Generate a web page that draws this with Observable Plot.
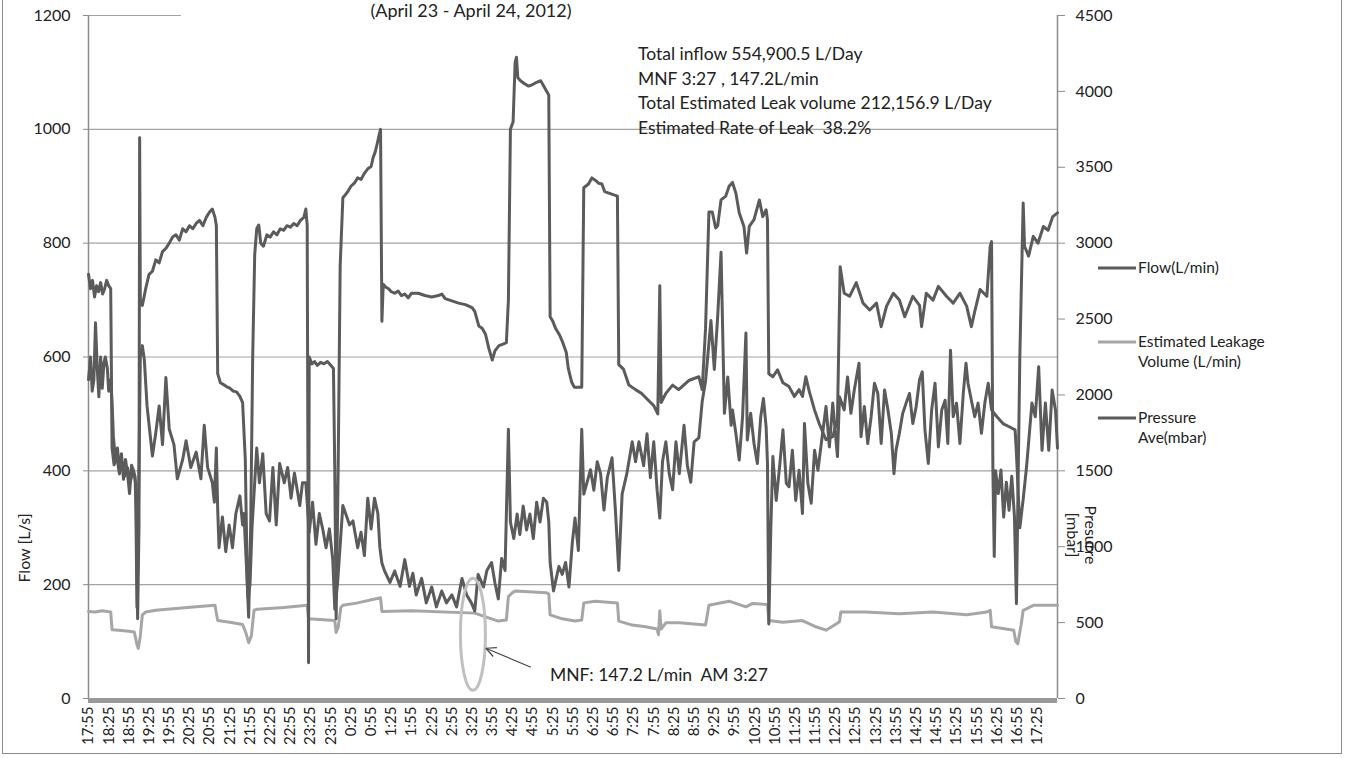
<!DOCTYPE html>
<html>
<head>
<meta charset="utf-8">
<script src="https://cdn.jsdelivr.net/npm/d3@7"></script>
<script src="https://cdn.jsdelivr.net/npm/@observablehq/plot@0.6"></script>
<style>
  html, body { margin: 0; padding: 0; background: #fff; }
  #wrap { position: relative; width: 1350px; height: 758px; overflow: hidden; background: #fff; }
  #chart { position: absolute; left: 0; top: 0; }
  #frame { position: absolute; left: 2px; top: -4px; width: 1340px; height: 758px; border: 1.5px solid #8c8c8c; box-sizing: border-box; pointer-events: none; }
</style>
</head>
<body>
<div id="wrap">
  <div id="chart"></div>
  <div id="frame"></div>
</div>
<script>
// ---- data: minutes after 17:55 (April 23) ----
const xTickLabels = ["17:55","18:25","18:55","19:25","19:55","20:25","20:55","21:25","21:55","22:25","22:55","23:25","23:55","0:25","0:55","1:25","1:55","2:25","2:55","3:25","3:55","4:25","4:55","5:25","5:55","6:25","6:55","7:25","7:55","8:25","8:55","9:25","9:55","10:25","10:55","11:25","11:55","12:25","12:55","13:25","13:55","14:25","14:55","15:25","15:55","16:25","16:55","17:25"];
const flowTicks = [0, 200, 400, 600, 800, 1000, 1200];
const pressureTicks = [0, 500, 1000, 1500, 2000, 2500, 3000, 3500, 4000, 4500];

// Flow (L/min): [minute, value]
const flowSeries = [[0,560],[3,600],[5.5,540],[8,560],[10.4,660],[13,580],[15.4,530],[18,600],[20.4,545],[23,590],[25,600],[28,580],[30,540],[33,560],[35,520],[37,460],[40,420],[43,440],[46,400],[49,430],[52,385],[55,420],[58,395],[61,360],[64,410],[67,400],[70,380],[72,160],[74,300],[77,600],[80,620],[83,595],[87,514],[95,426],[100,467],[105,514],[110,446],[115,564],[120,473],[127,446],[132,386],[140,420],[145,453],[152,406],[160,433],[167,386],[172,480],[177,406],[184,379],[187,345],[190,440],[192,332],[194,265],[199,319],[204,258],[209,305],[214,265],[219,325],[225,356],[229,305],[231,325],[234,250],[237,177],[240,200],[243,300],[250,440],[254,379],[259,430],[264,325],[269,312],[274,406],[279,305],[284,413],[291,379],[296,406],[301,352],[306,396],[314,339],[318,379],[323,379],[328,292],[333,345],[338,271],[343,325],[348,298],[353,265],[358,298],[363,244],[366,157],[370,200],[378,339],[388,305],[393,312],[400,265],[405,292],[410,251],[415,352],[420,298],[425,352],[430,325],[433,265],[436,238],[440,224],[448,204],[455,224],[463,197],[470,244],[477,197],[482,220],[487,182],[495,211],[502,168],[510,196],[517,161],[525,189],[532,168],[540,182],[547,161],[555,211],[562,182],[569,168],[574,154],[579,218],[587,196],[592,225],[599,239],[604,203],[609,175],[614,246],[619,225],[624,473],[627,310],[632,281],[637,324],[641,288],[646,338],[651,296],[656,324],[661,281],[666,345],[671,310],[676,352],[681,345],[684,310],[686,239],[691,189],[699,232],[704,218],[709,239],[714,196],[719,274],[723,317],[728,260],[733,473],[736,359],[741,380],[746,402],[751,366],[756,416],[761,395],[766,331],[771,388],[778,423],[783,331],[788,225],[793,359],[800,395],[808,451],[813,416],[818,451],[825,409],[830,465],[835,388],[840,451],[845,366],[849,317],[853,416],[858,451],[863,395],[868,367],[873,451],[878,395],[885,480],[890,409],[895,380],[900,451],[907,458],[912,522],[917,558],[925,664],[930,578],[935,671],[940,784],[945,501],[950,565],[955,480],[957,507],[962,466],[967,419],[972,495],[977,642],[979,454],[984,501],[989,448],[994,413],[999,495],[1003,527],[1007,477],[1009,413],[1011,131],[1014,300],[1017,425],[1022,348],[1027,407],[1032,472],[1037,378],[1041,372],[1046,436],[1051,348],[1056,401],[1061,325],[1064,483],[1069,378],[1074,343],[1079,436],[1084,401],[1089,448],[1096,513],[1101,442],[1106,519],[1113,425],[1116,530],[1123,507],[1128,565],[1133,501],[1138,542],[1145,589],[1148,460],[1153,513],[1158,448],[1163,495],[1168,554],[1173,536],[1178,448],[1183,542],[1188,507],[1193,466],[1197,395],[1200,436],[1205,466],[1210,501],[1215,519],[1220,536],[1225,483],[1230,513],[1235,560],[1239,574],[1243,472],[1248,413],[1253,507],[1258,554],[1263,442],[1268,507],[1273,524],[1277,448],[1281,612],[1285,495],[1290,519],[1295,448],[1300,536],[1304,589],[1307,554],[1312,524],[1317,495],[1322,519],[1327,466],[1332,519],[1337,554],[1342,507],[1350,495],[1359,483],[1369,477],[1377,472],[1379,430],[1384,300],[1389,350],[1394,407],[1402,519],[1407,495],[1412,583],[1417,436],[1422,519],[1427,436],[1432,542],[1437,507],[1440,440]];

// Estimated leakage volume (L/min): [minute, value]
const leakSeries = [[0,153],[10,152],[20,154],[33,152],[35,121],[45,120],[60,118],[68,117],[72,95],[74,88],[77,110],[80,147],[85,152],[100,155],[130,158],[160,161],[188,164],[190,150],[192,137],[210,134],[229,130],[234,115],[238,98],[242,110],[246,155],[251,157],[290,160],[325,164],[327,140],[366,137],[368,116],[371,125],[375,160],[378,164],[400,168],[434,177],[436,153],[480,154],[574,150],[599,140],[609,136],[621,138],[624,179],[630,186],[634,189],[680,186],[684,184],[686,147],[704,140],[723,136],[733,138],[736,168],[753,171],[786,168],[788,136],[808,129],[828,126],[845,122],[847,112],[849,154],[851,122],[858,133],[878,133],[917,129],[922,164],[952,171],[977,161],[987,167],[1009,165],[1011,137],[1032,134],[1061,137],[1081,126],[1096,120],[1111,131],[1116,135],[1118,152],[1155,152],[1205,149],[1255,152],[1305,147],[1335,152],[1340,155],[1342,126],[1375,120],[1378,100],[1381,96],[1386,130],[1389,155],[1405,164],[1440,164]];

// Pressure average (mbar): [minute, value]
const pressureSeries = [[0,2795],[3,2700],[6,2755],[9,2645],[12,2720],[15,2680],[18,2740],[21,2665],[24,2700],[27,2755],[30,2720],[33,2700],[35,1650],[38,1540],[42,1595],[46,1480],[50,1555],[54,1465],[58,1520],[62,1425],[66,1500],[69,1465],[71,1240],[73,525],[75,1125],[76,3695],[77,2625],[80,2590],[85,2700],[90,2795],[95,2815],[100,2890],[105,2870],[110,2945],[115,2965],[120,3000],[125,3040],[130,3055],[135,3020],[140,3095],[145,3075],[150,3115],[155,3095],[160,3130],[165,3150],[170,3115],[175,3170],[180,3205],[184,3225],[188,3170],[190,3115],[192,2140],[196,2080],[200,2070],[205,2055],[210,2045],[215,2025],[220,2020],[225,1990],[229,1950],[233,1575],[236,750],[238,535],[241,1125],[244,2250],[247,2925],[250,3095],[253,3120],[256,3000],[260,2980],[265,3055],[270,3040],[275,3075],[280,3055],[285,3095],[290,3085],[295,3115],[300,3105],[305,3130],[310,3115],[315,3150],[320,3170],[323,3225],[325,3115],[327,235],[328,2250],[332,2205],[336,2220],[340,2195],[345,2215],[350,2205],[355,2220],[360,2195],[364,2175],[366,1500],[368,525],[371,1500],[374,2850],[378,3300],[382,3320],[386,3345],[390,3375],[395,3395],[400,3430],[405,3420],[410,3460],[415,3490],[420,3505],[423,3565],[426,3600],[429,3655],[432,3715],[434,3750],[436,2485],[438,2730],[442,2710],[446,2700],[450,2680],[455,2670],[460,2685],[465,2655],[470,2665],[475,2640],[480,2670],[490,2670],[500,2655],[510,2645],[520,2655],[525,2665],[530,2635],[540,2620],[550,2605],[560,2595],[570,2575],[574,2550],[580,2455],[585,2440],[590,2400],[595,2305],[600,2230],[604,2290],[610,2325],[616,2335],[621,2345],[624,2625],[627,3750],[631,3800],[634,4190],[636,4225],[638,4090],[642,4070],[648,4050],[654,4035],[660,4045],[666,4060],[672,4070],[681,4000],[684,3975],[686,2515],[690,2485],[694,2440],[700,2395],[704,2355],[710,2280],[713,2175],[718,2085],[722,2050],[733,2050],[736,3365],[743,3390],[748,3430],[753,3415],[758,3395],[763,3390],[767,3340],[786,3310],[788,2200],[795,2170],[803,2065],[813,2035],[822,2010],[833,1960],[840,1930],[846,1875],[849,2720],[851,1950],[858,2010],[868,2065],[877,2035],[892,2095],[907,2120],[912,2035],[917,2440],[922,3205],[927,3205],[932,3100],[935,3115],[940,3285],[947,3310],[952,3375],[957,3400],[962,3330],[967,3200],[974,3110],[978,2935],[982,3110],[989,3155],[997,3285],[1002,3175],[1007,3220],[1009,3155],[1011,2140],[1017,2120],[1024,2165],[1032,2080],[1041,2055],[1049,1990],[1056,2035],[1061,1990],[1066,2120],[1071,2025],[1079,1900],[1086,1810],[1096,1705],[1106,1725],[1113,1840],[1117,2845],[1123,2670],[1131,2650],[1141,2740],[1151,2605],[1161,2560],[1171,2605],[1178,2450],[1186,2585],[1196,2670],[1205,2625],[1213,2515],[1225,2650],[1235,2590],[1238,2450],[1245,2670],[1255,2625],[1263,2715],[1275,2650],[1285,2605],[1295,2670],[1305,2585],[1312,2450],[1317,2550],[1325,2695],[1335,2650],[1340,2980],[1342,3010],[1344,1505],[1346,935],[1348,1500],[1352,1350],[1356,1505],[1360,1195],[1364,1425],[1368,1240],[1372,1465],[1376,1200],[1379,625],[1384,2250],[1389,3265],[1391,2980],[1397,2915],[1404,3045],[1411,3000],[1419,3110],[1426,3085],[1433,3175],[1440,3200]];

// Annotation
const mnf = { minute: 572, value: 112, label: "MNF: 147.2 L/min  AM 3:27" };
const statsLines = ["Total inflow 554,900.5 L/Day", "MNF 3:27 , 147.2L/min", "Total Estimated Leak volume 212,156.9 L/Day", "Estimated Rate of Leak  38.2%"];
const legendItems = [
  { lines: ["Flow(L/min)"], color: "#5b5b5b" },
  { lines: ["Estimated Leakage", "Volume (L/min)"], color: "#a6a6a6" },
  { lines: ["Pressure", "Ave(mbar)"], color: "#5b5b5b" }
];

// ---- build ----
const ratio = pressureTicks[pressureTicks.length - 1] / flowTicks[flowTicks.length - 1];
const rows = s => s.map(([t, v]) => ({ t, v }));
const flow = rows(flowSeries), leak = rows(leakSeries), pressure = rows(pressureSeries);
const xTickPos = xTickLabels.map((_, i) => i * 30);
const labelAt = new Map(xTickPos.map((p, i) => [p, xTickLabels[i]]));
const gridCol = "#a3a3a3", axisCol = "#8c8c8c";

const chart = Plot.plot({
  width: 1350, height: 758,
  marginLeft: 88, marginRight: 293, marginTop: 15, marginBottom: 60,
  style: { fontFamily: "Lato, 'Open Sans', sans-serif", fontSize: "16px", color: "#222", background: "transparent" },
  x: { domain: [0, 1440], label: null },
  y: { domain: [0, 1200], label: null },
  marks: [
    Plot.ruleY(flowTicks.filter(d => d > 0 && d < 1200), { stroke: gridCol, strokeWidth: 1.2 }),
    Plot.ruleY([1200], { x1: -7, x2: 138, stroke: gridCol, strokeWidth: 1.2 }),
    Plot.ruleX([0], { stroke: axisCol, strokeWidth: 1.5 }),
    Plot.ruleX([1440], { stroke: axisCol, strokeWidth: 1.5 }),
    Plot.axisY(flowTicks, { anchor: "left", tickSize: 5, tickPadding: 13, fontSize: 16, label: null, stroke: axisCol, tickFormat: d => String(d) }),
    Plot.axisY(pressureTicks.map(p => p / ratio), { anchor: "right", tickSize: 7, tickPadding: 11, fontSize: 16, label: null, tickFormat: d => String(Math.round(d * ratio)), stroke: axisCol }),
    Plot.axisX(xTickPos, { anchor: "bottom", tickSize: 0, tickPadding: 8, tickRotate: -90, fontSize: 15, label: null, tickFormat: d => labelAt.get(d) }),
    Plot.line(leak, { x: "t", y: "v", stroke: legendItems[1].color, strokeWidth: 3, strokeLinejoin: "round" }),
    Plot.line(pressure, { x: "t", y: d => d.v / ratio, stroke: legendItems[2].color, strokeWidth: 3, strokeLinejoin: "round" }),
    Plot.line(flow, { x: "t", y: "v", stroke: legendItems[0].color, strokeWidth: 3, strokeLinejoin: "round" }),
    Plot.ruleY([0], { stroke: "#999", strokeWidth: 5, dy: 2 })
  ]
});
document.getElementById("chart").appendChild(chart);

const svg = d3.select(chart);
const xs = chart.scale("x"), ys = chart.scale("y");
const font = "Lato, 'Open Sans', sans-serif";
const txt = (x, y, size, s, anchor = "start") => svg.append("text").attr("x", x).attr("y", y)
  .attr("text-anchor", anchor).attr("font-family", font).attr("font-size", size).attr("fill", "#222").text(s);

// subtitle
txt(471, 17, 18, "(April 23 - April 24, 2012)", "middle");

// statistics box
statsLines.forEach((s, i) => txt(638, 60 + i * 24.6, 17.5, s));

// MNF ellipse + arrow + label
const cx = xs.apply(mnf.minute), cy = ys.apply(mnf.value);
svg.append("ellipse").attr("cx", cx).attr("cy", cy).attr("rx", 12.5).attr("ry", 56)
  .attr("fill", "none").attr("stroke", "#c0c0c0").attr("stroke-width", 3);
const ax0 = cx + 58, ay0 = cy + 33, ax1 = cx + 13, ay1 = cy + 14;
svg.append("line").attr("x1", ax0).attr("y1", ay0).attr("x2", ax1).attr("y2", ay1)
  .attr("stroke", "#444").attr("stroke-width", 1.2);
const ang = Math.atan2(ay0 - ay1, ax0 - ax1);
[0.45, -0.45].forEach(da => {
  svg.append("line").attr("x1", ax1).attr("y1", ay1)
    .attr("x2", ax1 + 11 * Math.cos(ang + da)).attr("y2", ay1 + 11 * Math.sin(ang + da))
    .attr("stroke", "#444").attr("stroke-width", 1.2);
});
txt(cx + 77, cy + 47, 17.5, mnf.label);

// axis titles
svg.append("text").attr("transform", "translate(30,548) rotate(-90)").attr("text-anchor", "middle")
  .attr("font-family", font).attr("font-size", 16).attr("fill", "#222").text("Flow [L/s]");
const rt = svg.append("text").attr("transform", "translate(1085,535) rotate(90)").attr("text-anchor", "middle")
  .attr("font-family", font).attr("font-size", 16).attr("fill", "#222");
rt.append("tspan").attr("x", 0).attr("dy", 0).text("Presurre");
rt.append("tspan").attr("x", 0).attr("dy", 18).text("[mbar]");

// legend
const legY = [268, 342, 418];
legendItems.forEach((it, i) => {
  svg.append("line").attr("x1", 1098).attr("x2", 1136).attr("y1", legY[i]).attr("y2", legY[i])
    .attr("stroke", it.color).attr("stroke-width", 3);
  it.lines.forEach((ln, j) => txt(1138, legY[i] + 5 + j * 19.5, 15.5, ln));
});
</script>
</body>
</html>
